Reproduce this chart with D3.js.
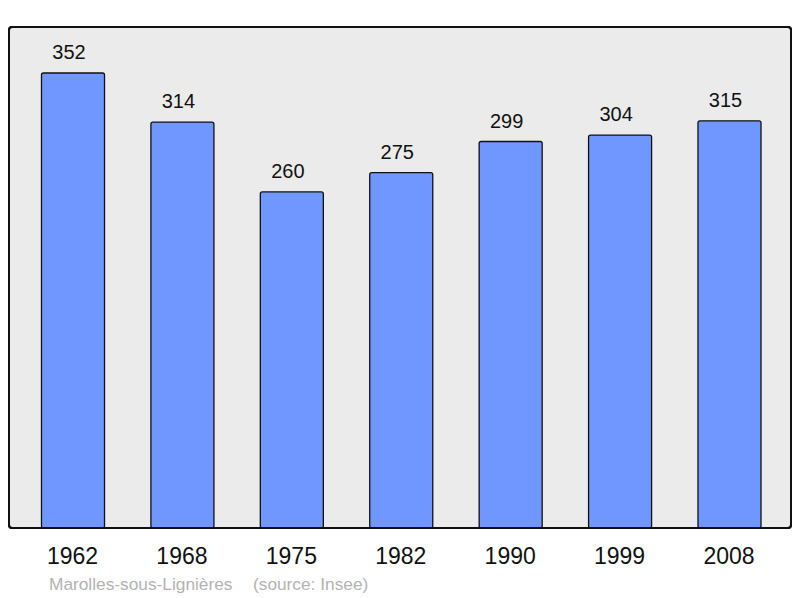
<!DOCTYPE html>
<html><head><meta charset="utf-8">
<script src="https://cdn.jsdelivr.net/npm/d3@7"></script>
<style>body{margin:0;background:#fff}svg{display:block}text{font-family:"Liberation Sans",Arial,sans-serif}</style>
</head><body>
<script>
const years = ["1962","1968","1975","1982","1990","1999","2008"];
const population = [352,314,260,275,299,304,315];
const commune = "Marolles-sous-Lignières";
const sourceText = "(source: Insee)";

const W = 800, H = 598;
const svg = d3.select("body").append("svg").attr("width", W).attr("height", H);

const frame = {x: 9, y: 27, w: 782, h: 501};
svg.append("rect").attr("x", frame.x).attr("y", frame.y).attr("width", frame.w).attr("height", frame.h)
  .attr("rx", 3).attr("fill", "#ebebeb").attr("stroke", "#111").attr("stroke-width", 2);

const x = d3.scaleBand().domain(years).range([18.3, 784.2]).paddingInner(0.424).paddingOuter(0.212);
const y = d3.scaleLinear().domain([0, 352]).range([528, 73]);

svg.selectAll("rect.bar").data(years).enter().append("rect").attr("class", "bar")
  .attr("x", d => x(d)).attr("width", x.bandwidth())
  .attr("y", (d, i) => y(population[i])).attr("height", (d, i) => y(0) - y(population[i]))
  .attr("rx", 2).attr("fill", "#7097ff").attr("stroke", "#111").attr("stroke-width", 1.3);

svg.selectAll("text.val").data(years).enter().append("text").attr("class", "val")
  .attr("x", d => x(d) + x.bandwidth() / 2 - 4).attr("y", (d, i) => y(population[i]) - 14)
  .attr("text-anchor", "middle").attr("font-size", 20).attr("fill", "#111")
  .text((d, i) => population[i]);

svg.append("rect").attr("x", frame.x).attr("y", frame.y).attr("width", frame.w).attr("height", frame.h)
  .attr("rx", 3).attr("fill", "none").attr("stroke", "#111").attr("stroke-width", 2);

const xAxis = svg.append("g").attr("transform", "translate(0,528)")
  .call(d3.axisBottom(x).tickSize(0).tickPadding(20));
xAxis.select(".domain").remove();
xAxis.selectAll("text").attr("font-size", 23).attr("fill", "#111").attr("dx", -0.5)
  .attr("font-family", '"Liberation Sans",Arial,sans-serif');

svg.append("text").attr("x", 49).attr("y", 590).attr("font-size", 17.3).attr("fill", "#b3b3b3").text(commune);
svg.append("text").attr("x", 253).attr("y", 590).attr("font-size", 17.3).attr("fill", "#b3b3b3").text(sourceText);
</script>
</body></html>
